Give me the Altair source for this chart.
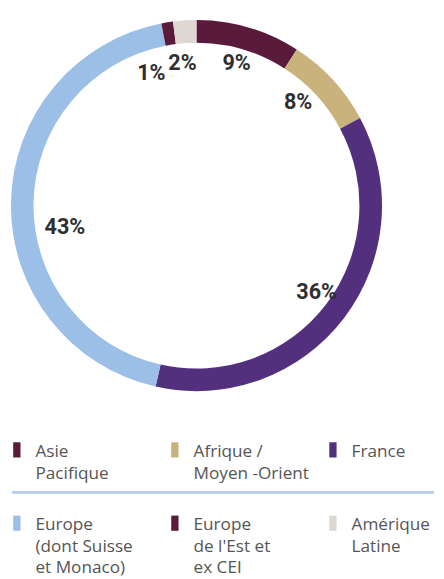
import altair as alt
import pandas as pd

regions = ["Asie Pacifique", "Afrique / Moyen-Orient", "France",
           "Europe (dont Suisse et Monaco)", "Europe de l'Est et ex CEI", "Amérique Latine"]
legend_labels = ["Asie\nPacifique", "Afrique /\nMoyen -Orient", "France",
                 "Europe\n(dont Suisse\net Monaco)", "Europe\nde l'Est et\nex CEI", "Amérique\nLatine"]
shares = [9, 8, 36, 43, 1, 2]
colors = ["#5a1a3b", "#c9b27c", "#53307e", "#9bbfe7", "#5a1a3b", "#ddd8d2"]

df = pd.DataFrame({
    "region": regions,
    "label": legend_labels,
    "share": shares,
    "idx": list(range(len(regions))),
})
df["pct"] = df["share"].astype(str) + "%"
df["row"] = df["idx"] // 3
df["col"] = df["idx"] % 3

color = alt.Color("region:N", scale=alt.Scale(domain=regions, range=colors), legend=None)
theta_scale = alt.Scale(domain=[0, 1], range=[0, 6.283185307])

base = (
    alt.Chart(df)
    .transform_window(cum="sum(share)", sort=[alt.SortField("idx")], frame=[None, 0])
    .transform_joinaggregate(total="sum(share)")
    .transform_calculate(
        start="(datum.cum - datum.share) / datum.total",
        end="datum.cum / datum.total",
        mid="(datum.cum - datum.share / 2) / datum.total",
    )
)

cx, cy = 192, 196

arc = base.mark_arc(innerRadius=166, outerRadius=189).encode(
    theta=alt.Theta("start:Q", scale=theta_scale),
    theta2="end:Q",
    color=color,
    x=alt.value(cx), y=alt.value(cy),
)

lab_kw = dict(radius=145, font="Roboto", fontWeight="bold", fontSize=22,
              color="#2f2f2f", align="center", baseline="middle")

# per-label nudges (dx, dy) in pixels, keyed by slice index
nudges = {0: (0, -6), 1: (-3, -7), 2: (7, 0), 3: (11, 24), 4: (-23, 8), 5: (-5, 0)}

label_layers = []
for i, (ddx, ddy) in nudges.items():
    label_layers.append(
        base.mark_text(dx=ddx, dy=ddy, **lab_kw).encode(
            theta=alt.Theta("mid:Q", scale=theta_scale), text="pct:N",
            x=alt.value(cx), y=alt.value(cy),
        ).transform_filter(f"datum.idx == {i}")
    )

xs = alt.X("col:Q", scale=alt.Scale(domain=[0, 2], range=[9, 331], nice=False, zero=False), axis=None)
ys = alt.Y("row:Q", scale=alt.Scale(domain=[0, 1], range=[444.8, 519.5], nice=False, zero=False), axis=None)

squares = alt.Chart(df).mark_point(
    shape="M-0.48,-1H0.48V1H-0.48Z", size=240, filled=True, opacity=1, strokeWidth=0
).encode(x=xs, y=ys, color=color)

leg_text = alt.Chart(df).mark_text(
    align="left", baseline="alphabetic", lineBreak="\n", lineHeight=22,
    dx=19, dy=7.2, font="Open Sans", fontSize=17.5, color="#555555"
).encode(x=xs, y=ys, text="label:N")

sep = alt.Chart(df).mark_rule(color="#b5cfea", strokeWidth=2).encode(
    x=alt.value(4.5), x2=alt.value(434), y=alt.value(488)
)

chart = alt.layer(arc, *label_layers, sep, squares, leg_text).properties(
    width=436, height=571, padding=0,
    autosize=alt.AutoSizeParams(type="none"),
).configure_view(stroke=None)

chart.save("out.html", embed_options={"renderer": "svg", "actions": False})
